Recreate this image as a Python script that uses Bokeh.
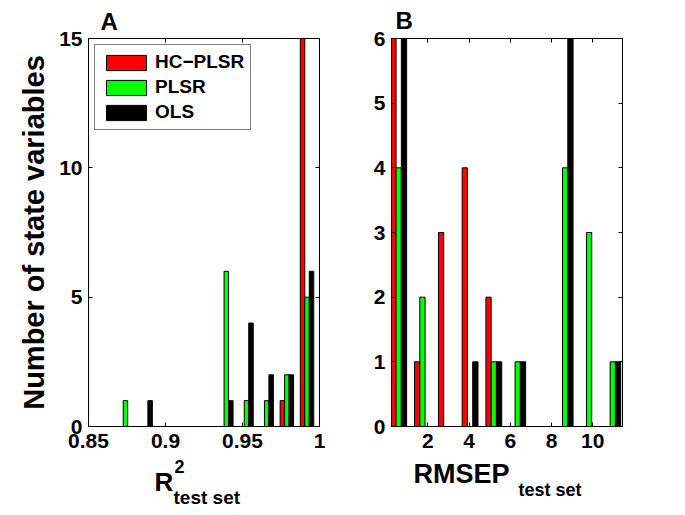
from bokeh.plotting import figure
from bokeh.layouts import row, column
from bokeh.models import Range1d, FixedTicker, LinearAxis, Legend, LegendItem
from bokeh.core.properties import value
from bokeh.embed import file_html
from bokeh.resources import INLINE

methods = ["HC−PLSR", "PLSR", "OLS"]
colors = ["#ff0000", "#00ff00", "#000000"]

# Panel A: histogram of R^2 (test set)
r2_bins = [0.8740, 0.8871, 0.9002, 0.9133, 0.9264, 0.9395, 0.9526, 0.9657, 0.9788, 0.9919]
r2_hc = [0, 0, 0, 0, 0, 0, 0, 0, 1, 15]
r2_plsr = [1, 0, 0, 0, 0, 6, 1, 1, 2, 5]
r2_ols = [0, 1, 0, 0, 0, 1, 4, 2, 2, 6]
r2_xticks = [0.85, 0.9, 0.95, 1.0]
r2_xtick_labels = ["0.85", "0.9", "0.95", "1"]
r2_yticks = [0, 5, 10, 15]

# Panel B: histogram of RMSEP (test set)
rmsep_bins = [0.59, 1.74, 2.90, 4.05, 5.20, 6.36, 7.51, 8.66, 9.82, 10.97]
rmsep_hc = [6, 1, 3, 4, 2, 0, 0, 0, 0, 0]
rmsep_plsr = [4, 2, 0, 0, 1, 1, 0, 4, 3, 1]
rmsep_ols = [6, 0, 0, 1, 1, 1, 0, 6, 0, 1]
rmsep_xticks = [2, 4, 6, 8, 10]
rmsep_yticks = [0, 1, 2, 3, 4, 5, 6]

FONT = "Liberation Sans"
TOP_H = 30                  # strip with the panel letters (page y 0..30)
BT, BB = 8, 32              # plot top/bottom borders
MAIN_H = BT + 388 + BB      # plot figure, frame on page y 38..426
LAB_TOP = TOP_H + MAIN_H    # page y where the lower strip starts
LAB_H = 512 - LAB_TOP
WA, WB = 355, 330
A_L, A_R = 88, 36           # left/right borders of panel A
B_L, B_R = 36, 63           # left/right borders of panel B
TEXT_SHIFT = 9              # text glyphs land this many px lower than asked


def style_axis(ax, ticks, show_labels=True):
    ax.ticker = FixedTicker(ticks=ticks)
    ax.major_tick_in = 4
    ax.major_tick_out = 0
    ax.minor_tick_line_color = None
    ax.axis_line_color = "black"
    ax.major_tick_line_color = "black"
    ax.major_label_text_font = FONT
    ax.major_label_text_font_style = "bold"
    ax.major_label_text_color = "black"
    if show_labels:
        ax.major_label_text_font_size = "21px"
    else:
        ax.major_label_text_font_size = "0px"
        ax.major_label_standoff = 0


def make_panel(width, bl, br, xr, yr, bins, series, xticks, yticks):
    p = figure(width=width, height=MAIN_H, x_range=Range1d(*xr),
               y_range=Range1d(*yr), output_backend="svg", toolbar_location=None,
               min_border_left=bl, min_border_right=br,
               min_border_top=BT, min_border_bottom=BB)
    p.title = None
    p.xgrid.visible = False
    p.ygrid.visible = False
    p.outline_line_color = "black"
    p.background_fill_color = "white"
    step = bins[1] - bins[0]
    w = step * 2.0 / 9.0
    rends = []
    for i, vals in enumerate(series):
        xs = [b + (i - 1) * w for b, v in zip(bins, vals) if v > 0]
        tops = [v for v in vals if v > 0]
        r = p.vbar(x=xs, top=tops, bottom=0, width=w, fill_color=colors[i],
                   line_color="black", line_width=1)
        rends.append(r)
    style_axis(p.xaxis[0], xticks)
    style_axis(p.yaxis[0], yticks)
    p.xaxis[0].major_label_standoff = 7
    p.yaxis[0].major_label_standoff = 6
    top = LinearAxis()
    style_axis(top, xticks, show_labels=False)
    p.add_layout(top, "above")
    right = LinearAxis()
    style_axis(right, yticks, show_labels=False)
    p.add_layout(right, "right")
    return p, rends


def strip(width, height, bl, br, x0):
    # frame matches the plot frame above it; x is in page pixels
    s = figure(width=width, height=height,
               x_range=Range1d(x0 + bl, x0 + width - br),
               y_range=Range1d(0, height), output_backend="svg", toolbar_location=None,
               x_axis_location=None, y_axis_location=None,
               min_border_left=bl, min_border_right=br,
               min_border_top=0, min_border_bottom=0)
    s.title = None
    s.xgrid.visible = False
    s.ygrid.visible = False
    s.outline_line_color = None
    s.background_fill_color = "white"
    s.border_fill_color = "white"
    return s


def put(s, text, x, page_y, top, height, size):
    s.text(x=[x], y=[top + height - (page_y - TEXT_SHIFT)], text=[text],
           text_font=value(FONT), text_font_style="bold", text_font_size=size,
           text_color="black", text_baseline="alphabetic", text_align="left")


pA, rendsA = make_panel(WA, A_L, A_R, (0.85, 1.0), (0, 15), r2_bins,
                        [r2_hc, r2_plsr, r2_ols], r2_xticks, r2_yticks)
pA.xaxis[0].major_label_overrides = {t: s for t, s in zip(r2_xticks, r2_xtick_labels)}
pA.yaxis[0].axis_label = "Number of state variables"
pA.yaxis[0].axis_label_text_font = FONT
pA.yaxis[0].axis_label_text_font_style = "bold"
pA.yaxis[0].axis_label_text_font_size = "29px"
pA.yaxis[0].axis_label_text_color = "black"
pA.yaxis[0].axis_label_standoff = 6

legend = Legend(items=[LegendItem(label=m, renderers=[r]) for m, r in zip(methods, rendsA)],
                location="top_left", margin=6, padding=6, spacing=3,
                glyph_width=50, glyph_height=19, label_height=19, label_standoff=4,
                label_text_font=FONT, label_text_font_style="bold",
                label_text_font_size="19px", label_text_color="black",
                border_line_color="black", border_line_width=1,
                background_fill_color="white", background_fill_alpha=1.0)
pA.add_layout(legend, "center")

pB, rendsB = make_panel(WB, B_L, B_R, (0.24, 11.44), (0, 6), rmsep_bins,
                        [rmsep_hc, rmsep_plsr, rmsep_ols], rmsep_xticks, rmsep_yticks)

tA = strip(WA, TOP_H, A_L, A_R, 0)
put(tA, "A", 100, 30, 0, TOP_H, "24px")
tB = strip(WB, TOP_H, B_L, B_R, WA)
put(tB, "B", 395, 29, 0, TOP_H, "24px")

lA = strip(WA, LAB_H, A_L, A_R, 0)
put(lA, "R", 154, 490, LAB_TOP, LAB_H, "26px")
put(lA, "2", 174, 475, LAB_TOP, LAB_H, "18px")
put(lA, "test set", 173, 506, LAB_TOP, LAB_H, "19px")
lB = strip(WB, LAB_H, B_L, B_R, WA)
put(lB, "RMSEP", 413, 482, LAB_TOP, LAB_H, "27px")
put(lB, "test set", 518, 498, LAB_TOP, LAB_H, "18px")

layout = row(column(tA, pA, lA), column(tB, pB, lB))
open("out.html", "w").write(file_html(layout, INLINE))
